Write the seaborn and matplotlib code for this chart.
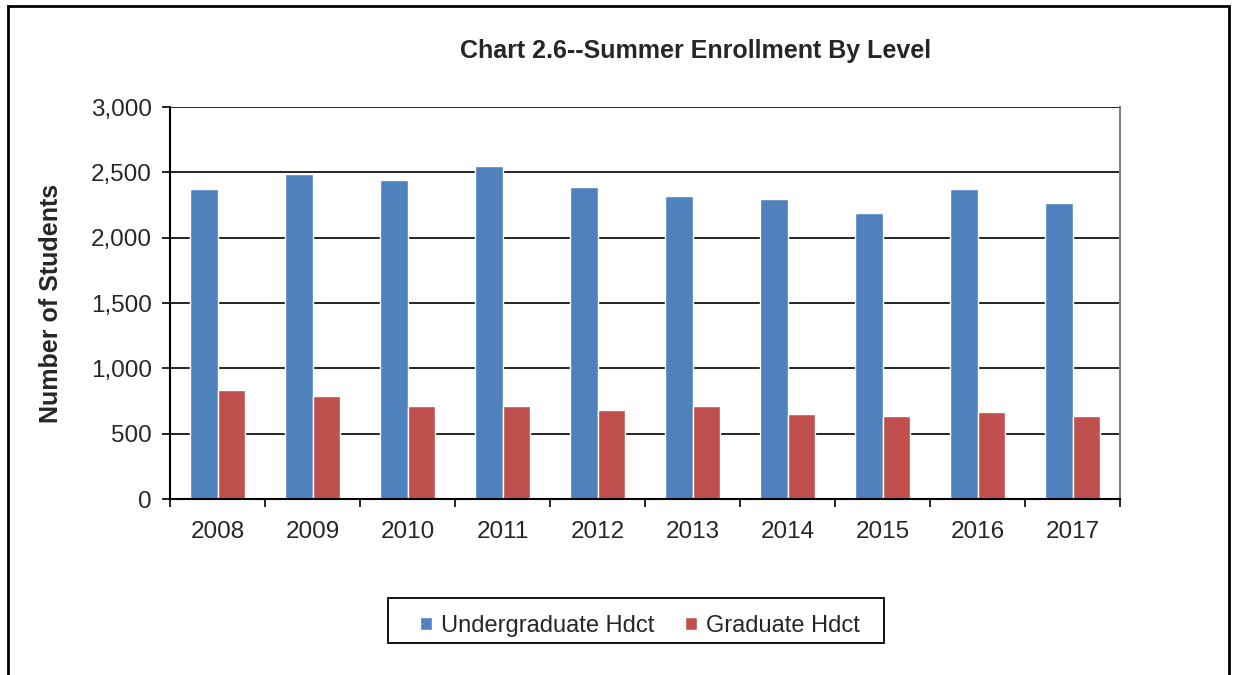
import matplotlib
matplotlib.use("Agg")
import matplotlib.pyplot as plt
from matplotlib.patches import Rectangle
from matplotlib.ticker import FuncFormatter, FixedLocator
import seaborn as sns
import pandas as pd

years = ["2008", "2009", "2010", "2011", "2012", "2013", "2014", "2015", "2016", "2017"]
undergrad = [2369, 2490, 2445, 2551, 2387, 2323, 2293, 2187, 2369, 2263]
graduate = [831, 788, 712, 712, 682, 712, 652, 636, 667, 636]
series_names = ["Undergraduate Hdct", "Graduate Hdct"]
colors = ["#4F81BD", "#C0504D"]

df = pd.DataFrame({
    "Year": years * 2,
    "Level": [series_names[0]] * len(years) + [series_names[1]] * len(years),
    "Students": undergrad + graduate,
})

sns.set_style("white")
plt.rcParams["font.family"] = ["Liberation Sans", "DejaVu Sans"]

fig = plt.figure(figsize=(12.35, 6.75), dpi=100)
ax = fig.add_axes([0.1377, 0.2607, 0.7692, 0.5807])

sns.barplot(data=df, x="Year", y="Students", hue="Level", palette=colors,
            width=0.57, saturation=1, ax=ax, legend=True)

ax.set_ylim(0, 3000)
ax.set_xlim(-0.5, len(years) - 0.5)
ax.set_yticks(range(0, 3001, 500))
ax.yaxis.set_major_formatter(FuncFormatter(lambda v, p: f"{int(v):,}"))
ax.yaxis.grid(True, color="black", linewidth=1.2)
ax.set_axisbelow(True)

# Excel-style category ticks between groups
ax.xaxis.set_minor_locator(FixedLocator([i - 0.5 for i in range(len(years) + 1)]))
ax.tick_params(axis="x", which="major", length=0, labelsize=17.5, pad=16)
ax.tick_params(axis="x", which="minor", length=6, width=1.2, color="black", direction="out", bottom=True)
ax.tick_params(axis="y", which="major", length=6, width=1.2, color="black", direction="out", left=True, labelsize=17.5, pad=7)

for side in ["left", "bottom"]:
    ax.spines[side].set_color("black")
    ax.spines[side].set_linewidth(1.5)
ax.spines["top"].set_visible(False)
ax.spines["right"].set_color("#808080")
ax.spines["right"].set_linewidth(1.5)

ax.set_xlabel("")
ax.set_ylabel("Number of Students", fontsize=18, fontweight="bold", labelpad=20)
fig.text(0.563, 0.925, "Chart 2.6--Summer Enrollment By Level", ha="center", va="center",
         fontsize=18, fontweight="bold")

leg = ax.legend(loc="center", bbox_to_anchor=(0.518, 0.073), bbox_transform=fig.transFigure,
                ncol=2, frameon=False, fontsize=17,
                handlelength=0.5, handleheight=0.5, handletextpad=0.38, columnspacing=1.3,
                borderpad=0, borderaxespad=0)
leg.set_title(None)

# legend box and outer chart border
fig.patches.append(Rectangle((0.3142, 0.0474), 0.4016, 0.0667, transform=fig.transFigure,
                             fill=False, edgecolor="black", linewidth=1.3))
fig.patches.append(Rectangle((0.0065, -0.01), 0.989, 1.0011,
                             transform=fig.transFigure, fill=False, edgecolor="black",
                             linewidth=2, clip_on=False))

fig.savefig("out.png", dpi=100)
